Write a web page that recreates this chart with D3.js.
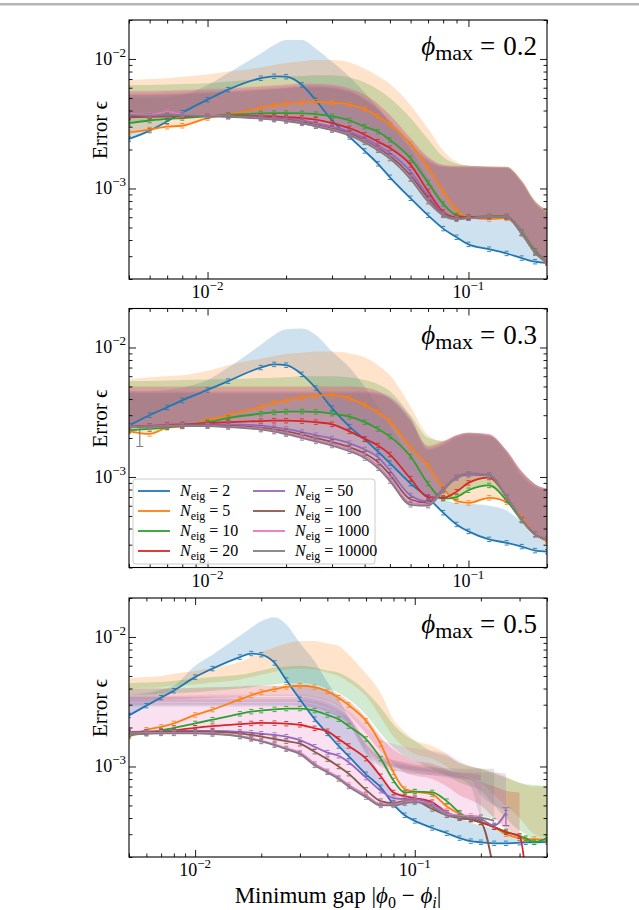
<!DOCTYPE html>
<html lang="en">
<head>
<meta charset="UTF-8">
<title>Error vs minimum gap</title>
<script src="https://cdn.jsdelivr.net/npm/d3@7/dist/d3.min.js"></script>
<style>
    body { margin: 0; background: #fff; }
    text { font-family: "Liberation Serif", "DejaVu Serif", serif; fill: #000; }
</style>
</head>
<body>
<script>
    //series and panels
    var nEig = [2, 5, 10, 20, 50, 100, 1000, 10000];
    var colors = ['#1f77b4', '#ff7f0e', '#2ca02c', '#d62728', '#9467bd', '#8c564b', '#e377c2', '#7f7f7f'];
    var phiMax = ['0.2', '0.3', '0.5'];
    var gapMax = [0.2, 0.2, 0.4];
    var xTicks = [0.01, 0.1];
    var yTicks = [0.001, 0.01];

    //minimum gap values
    var gapA = [0.005, 0.006, 0.007, 0.008, 0.01, 0.012, 0.016, 0.018, 0.02, 0.023, 0.026, 0.03, 0.035, 0.04, 0.045, 0.05, 0.06, 0.07, 0.08, 0.09, 0.1, 0.12, 0.14, 0.16, 0.18, 0.2];
    var gapB = [0.005, 0.006, 0.007, 0.008, 0.01, 0.012, 0.016, 0.018, 0.02, 0.023, 0.026, 0.03, 0.035, 0.04, 0.045, 0.05, 0.06, 0.07, 0.08, 0.09, 0.1, 0.12, 0.14, 0.16, 0.18, 0.2, 0.23, 0.26, 0.3, 0.32, 0.35, 0.4];

    //phi_max = 0.2, error in units of 1e-3
    var err02_2 = [2.41, 2.8, 3.3, 3.85, 4.85, 5.8, 7.1, 7.35, 7.3, 6.3, 4.8, 3.35, 2.5, 1.95, 1.55, 1.22, 0.84, 0.62, 0.49, 0.42, 0.37, 0.34, 0.315, 0.29, 0.272, 0.265];
    var err02_5 = [2.7, 2.85, 3.0, 3.05, 3.5, 3.7, 4.2, 4.4, 4.5, 4.62, 4.67, 4.6, 4.45, 4.1, 3.6, 3.1, 2.2, 1.45, 0.95, 0.68, 0.6, 0.58, 0.59, 0.45, 0.32, 0.265];
    var err02_10 = [3.2, 3.35, 3.45, 3.5, 3.6, 3.7, 3.8, 3.82, 3.82, 3.8, 3.75, 3.6, 3.35, 3.0, 2.74, 2.37, 1.71, 1.11, 0.76, 0.62, 0.6, 0.61, 0.61, 0.46, 0.33, 0.27];
    var err02_20 = [3.55, 3.57, 3.6, 3.6, 3.63, 3.65, 3.62, 3.6, 3.55, 3.5, 3.4, 3.2, 2.92, 2.6, 2.3, 2.05, 1.52, 0.95, 0.66, 0.6, 0.6, 0.605, 0.605, 0.45, 0.32, 0.27];
    var err02_50 = [3.6, 3.6, 3.62, 3.62, 3.63, 3.62, 3.55, 3.5, 3.45, 3.35, 3.2, 3.0, 2.75, 2.45, 2.15, 1.88, 1.35, 0.88, 0.64, 0.59, 0.59, 0.6, 0.6, 0.45, 0.32, 0.27];
    var err02_100 = [3.62, 3.62, 3.63, 3.63, 3.63, 3.6, 3.5, 3.45, 3.38, 3.25, 3.1, 2.9, 2.65, 2.35, 2.05, 1.78, 1.26, 0.84, 0.63, 0.59, 0.59, 0.6, 0.6, 0.45, 0.32, 0.27];
    var err02_1000 = [3.8, 3.7, 3.9, 3.75, 3.65, 3.6, 3.48, 3.42, 3.35, 3.2, 3.05, 2.85, 2.6, 2.3, 2.0, 1.72, 1.2, 0.8, 0.62, 0.58, 0.59, 0.6, 0.6, 0.45, 0.32, 0.27];
    var err02_10000 = [3.7, 3.65, 3.7, 3.68, 3.62, 3.58, 3.46, 3.4, 3.32, 3.18, 3.02, 2.82, 2.57, 2.27, 1.97, 1.7, 1.18, 0.79, 0.62, 0.58, 0.59, 0.6, 0.6, 0.45, 0.32, 0.27];

    var hi02_2 = [5.0, 5.0, 5.1, 5.3, 6.3, 7.8, 11.0, 12.8, 14.0, 14.0, 12.0, 9.5, 7.3, 5.5, 4.2, 3.2, 2.0, 1.2, 0.8, 0.63, 0.6, 0.6, 0.6, 0.5, 0.35, 0.28];
    var hi02_5 = [6.9, 7.0, 7.1, 7.3, 7.6, 8.0, 8.6, 9.0, 9.3, 9.6, 9.8, 9.8, 9.4, 8.4, 7.4, 6.4, 4.4, 2.9, 1.96, 1.6, 1.5, 1.48, 1.47, 1.15, 0.8, 0.68];
    var hi02_10 = [6.3, 6.3, 6.35, 6.4, 6.5, 6.7, 7.0, 7.2, 7.3, 7.4, 7.5, 7.5, 7.2, 6.6, 5.8, 5.0, 3.5, 2.4, 1.75, 1.55, 1.5, 1.48, 1.47, 1.15, 0.8, 0.68];
    var hi02_20 = [5.6, 5.6, 5.65, 5.7, 5.8, 5.9, 6.1, 6.2, 6.3, 6.4, 6.4, 6.3, 5.9, 5.3, 4.5, 3.7, 2.45, 1.75, 1.52, 1.5, 1.5, 1.48, 1.47, 1.15, 0.8, 0.68];
    var hi02_50 = [5.4, 5.4, 5.45, 5.5, 5.6, 5.7, 5.9, 6.0, 6.1, 6.2, 6.2, 6.1, 5.7, 5.0, 4.2, 3.4, 2.3, 1.7, 1.5, 1.48, 1.48, 1.46, 1.45, 1.12, 0.78, 0.66];
    var hi02_100 = [5.3, 5.3, 5.35, 5.4, 5.5, 5.6, 5.8, 5.9, 6.0, 6.1, 6.1, 6.0, 5.6, 4.9, 4.1, 3.3, 2.2, 1.65, 1.48, 1.46, 1.46, 1.45, 1.44, 1.1, 0.77, 0.65];
    var hi02_1000 = [5.7, 5.7, 5.75, 5.8, 5.9, 6.0, 6.2, 6.3, 6.4, 6.5, 6.5, 6.4, 6.0, 5.3, 4.5, 3.7, 2.4, 1.75, 1.52, 1.48, 1.48, 1.46, 1.45, 1.12, 0.78, 0.66];
    var hi02_10000 = [5.2, 5.2, 5.25, 5.3, 5.4, 5.5, 5.7, 5.8, 5.9, 6.0, 6.0, 5.9, 5.5, 4.8, 4.0, 3.2, 2.1, 1.6, 1.46, 1.45, 1.45, 1.44, 1.43, 1.1, 0.76, 0.64];

    //phi_max = 0.3
    var err03_2 = [2.5, 3.0, 3.45, 3.9, 4.7, 5.5, 7.0, 7.4, 7.3, 6.2, 4.85, 3.4, 2.45, 1.95, 1.57, 1.28, 0.89, 0.69, 0.53, 0.43, 0.38, 0.33, 0.31, 0.29, 0.27, 0.265];
    var err03_5 = [2.25, 2.15, 2.4, 2.45, 2.75, 3.0, 3.5, 3.75, 3.9, 4.1, 4.25, 4.28, 4.05, 3.6, 3.16, 2.67, 1.69, 1.22, 0.82, 0.65, 0.63, 0.69, 0.64, 0.49, 0.36, 0.32];
    var err03_10 = [2.3, 2.35, 2.42, 2.5, 2.65, 2.85, 3.08, 3.15, 3.2, 3.2, 3.18, 3.08, 2.92, 2.65, 2.35, 2.05, 1.44, 0.89, 0.68, 0.7, 0.79, 0.86, 0.66, 0.46, 0.36, 0.33];
    var err03_20 = [2.45, 2.48, 2.52, 2.55, 2.6, 2.65, 2.7, 2.72, 2.72, 2.7, 2.65, 2.55, 2.25, 1.97, 1.75, 1.49, 0.97, 0.7, 0.69, 0.77, 0.9, 0.99, 0.7, 0.47, 0.36, 0.33];
    var err03_50 = [2.45, 2.47, 2.5, 2.52, 2.55, 2.55, 2.5, 2.42, 2.35, 2.22, 2.1, 1.98, 1.82, 1.63, 1.42, 1.12, 0.72, 0.65, 0.8, 0.98, 1.04, 1.03, 0.7, 0.47, 0.36, 0.33];
    var err03_100 = [2.44, 2.46, 2.48, 2.5, 2.5, 2.48, 2.4, 2.33, 2.25, 2.12, 2.0, 1.87, 1.7, 1.52, 1.3, 1.04, 0.67, 0.63, 0.8, 1.0, 1.06, 1.04, 0.7, 0.47, 0.36, 0.33];
    var err03_1000 = [2.43, 2.45, 2.47, 2.48, 2.48, 2.45, 2.35, 2.27, 2.18, 2.05, 1.93, 1.8, 1.63, 1.45, 1.22, 0.97, 0.63, 0.61, 0.79, 1.0, 1.06, 1.04, 0.7, 0.47, 0.36, 0.33];
    var err03_10000 = [2.42, 2.44, 2.46, 2.47, 2.47, 2.43, 2.32, 2.24, 2.14, 2.0, 1.88, 1.75, 1.58, 1.4, 1.17, 0.93, 0.61, 0.6, 0.78, 1.0, 1.06, 1.04, 0.7, 0.47, 0.36, 0.33];

    var hi03_2 = [4.6, 4.6, 4.7, 4.9, 5.6, 7.0, 10.5, 12.5, 13.8, 14.0, 12.5, 9.3, 7.0, 5.0, 3.5, 2.5, 1.4, 0.9, 0.68, 0.63, 0.62, 0.6, 0.55, 0.45, 0.35, 0.32];
    var hi03_5 = [5.7, 5.9, 6.0, 6.1, 6.6, 7.3, 8.2, 8.6, 8.9, 9.1, 9.3, 9.3, 9.0, 8.4, 7.3, 6.1, 3.5, 2.1, 1.9, 2.1, 2.2, 2.1, 1.6, 1.1, 0.88, 0.81];
    var hi03_10 = [5.5, 5.5, 5.55, 5.6, 5.65, 5.7, 5.8, 5.85, 5.9, 6.0, 6.0, 6.0, 5.9, 5.6, 5.2, 4.6, 3.0, 2.0, 1.9, 2.1, 2.2, 2.1, 1.6, 1.1, 0.88, 0.81];
    var hi03_20 = [5.0, 5.0, 5.0, 5.0, 5.0, 5.0, 5.0, 5.0, 5.0, 5.0, 5.0, 5.0, 5.0, 4.9, 4.6, 4.0, 2.7, 1.75, 1.9, 2.1, 2.2, 2.15, 1.6, 1.1, 0.88, 0.81];
    var hi03_50 = [4.6, 4.6, 4.6, 4.6, 4.6, 4.6, 4.6, 4.6, 4.6, 4.6, 4.6, 4.6, 4.6, 4.6, 4.5, 4.2, 2.9, 1.7, 1.85, 2.1, 2.2, 2.15, 1.6, 1.1, 0.88, 0.81];
    var hi03_100 = [4.5, 4.5, 4.5, 4.5, 4.5, 4.5, 4.5, 4.5, 4.5, 4.5, 4.5, 4.5, 4.5, 4.5, 4.4, 4.1, 2.8, 1.65, 1.8, 2.05, 2.15, 2.1, 1.55, 1.05, 0.85, 0.8];
    var hi03_1000 = [4.9, 4.9, 4.9, 4.9, 4.9, 4.9, 4.9, 4.9, 4.9, 4.9, 4.9, 4.9, 4.9, 4.8, 4.6, 4.2, 2.8, 1.7, 1.85, 2.1, 2.2, 2.15, 1.6, 1.1, 0.88, 0.81];
    var hi03_10000 = [4.4, 4.4, 4.4, 4.4, 4.4, 4.4, 4.4, 4.4, 4.4, 4.4, 4.4, 4.4, 4.4, 4.4, 4.3, 4.0, 2.7, 1.6, 1.75, 2.0, 2.1, 2.05, 1.5, 1.0, 0.83, 0.78];

    //phi_max = 0.5
    var err05_2 = [2.48, 2.95, 3.4, 3.85, 4.9, 5.7, 7.0, 7.45, 7.3, 6.3, 4.65, 3.3, 2.32, 1.8, 1.44, 1.2, 0.87, 0.69, 0.51, 0.42, 0.38, 0.335, 0.305, 0.28, 0.265, 0.26, 0.255, 0.255, 0.258, 0.26, 0.26, 0.262];
    var err05_5 = [1.7, 1.92, 2.02, 2.15, 2.5, 2.75, 3.3, 3.55, 3.75, 3.95, 4.12, 4.2, 4.1, 3.8, 3.4, 2.98, 2.25, 1.49, 0.9, 0.67, 0.64, 0.61, 0.49, 0.43, 0.395, 0.375, 0.34, 0.3, 0.28, 0.275, 0.275, 0.27];
    var err05_10 = [1.75, 1.8, 1.9, 1.98, 2.15, 2.3, 2.55, 2.65, 2.7, 2.76, 2.8, 2.8, 2.7, 2.5, 2.32, 2.05, 1.63, 1.15, 0.78, 0.63, 0.64, 0.63, 0.54, 0.44, 0.39, 0.37, 0.34, 0.315, 0.29, 0.28, 0.26, 0.28];
    var err05_20 = [1.83, 1.85, 1.87, 1.9, 1.99, 2.05, 2.12, 2.15, 2.17, 2.16, 2.14, 2.1, 1.97, 1.87, 1.63, 1.44, 1.15, 0.84, 0.63, 0.59, 0.57, 0.53, 0.44, 0.4, 0.39, 0.37, 0.34, 0.31, 0.29, 0.15, null, null];
    var err05_50 = [1.85, 1.86, 1.87, 1.88, 1.88, 1.88, 1.85, 1.82, 1.79, 1.75, 1.7, 1.6, 1.42, 1.28, 1.21, 1.08, 0.82, 0.65, 0.57, 0.56, 0.56, 0.51, 0.44, 0.405, 0.395, 0.39, 0.35, 0.44, null, null, null, null];
    var err05_100 = [1.83, 1.84, 1.85, 1.86, 1.86, 1.85, 1.8, 1.75, 1.7, 1.63, 1.57, 1.5, 1.3, 1.14, 1.0, 0.88, 0.66, 0.54, 0.52, 0.54, 0.54, 0.47, 0.42, 0.4, 0.39, 0.37, 0.15, null, null, null, null, null];
    var err05_1000 = [1.8, 1.81, 1.82, 1.82, 1.82, 1.8, 1.72, 1.65, 1.58, 1.48, 1.38, 1.28, 1.05, 0.92, 0.82, 0.72, 0.6, 0.51, 0.51, 0.53, 0.54, 0.5, 0.43, 0.42, 0.415, 0.41, null, null, null, null, null, null];
    var err05_10000 = [1.78, 1.79, 1.8, 1.8, 1.8, 1.78, 1.7, 1.63, 1.56, 1.46, 1.36, 1.25, 1.02, 0.9, 0.8, 0.7, 0.58, 0.5, 0.5, 0.52, 0.53, 0.49, 0.42, 0.41, 0.4, 0.4, 0.38, null, null, null, null, null];

    var hi05_2 = [3.6, 3.7, 3.9, 4.2, 6.0, 7.3, 10.2, 11.8, 13.2, 14.2, 12.5, 9.0, 6.5, 4.5, 3.3, 2.4, 1.4, 0.85, 0.65, 0.58, 0.56, 0.53, 0.46, 0.4, 0.37, 0.35, 0.33, 0.3, 0.28, 0.275, 0.27, 0.27];
    var hi05_5 = [4.8, 4.9, 5.0, 5.2, 5.45, 5.8, 6.4, 7.0, 7.6, 8.3, 8.9, 9.3, 9.3, 8.9, 8.5, 7.3, 5.2, 3.7, 2.3, 1.85, 1.6, 1.44, 1.25, 1.05, 1.0, 0.96, 0.9, 0.83, 0.75, 0.72, 0.7, 0.7];
    var hi05_10 = [4.4, 4.45, 4.5, 4.6, 4.75, 4.9, 5.1, 5.3, 5.5, 5.8, 5.9, 6.0, 5.8, 5.5, 5.3, 4.85, 3.8, 2.85, 2.1, 1.75, 1.57, 1.3, 1.2, 1.07, 1.0, 0.96, 0.88, 0.82, 0.75, 0.73, 0.72, 0.71];
    var hi05_20 = [4.0, 4.0, 4.0, 4.0, 4.05, 4.1, 4.15, 4.2, 4.2, 4.2, 4.2, 4.2, 4.1, 3.9, 3.6, 3.2, 2.4, 1.7, 1.35, 1.2, 1.1, 1.05, 0.95, 0.85, 0.8, 0.76, 0.7, 0.65, 0.63, null, null, null];
    var hi05_50 = [3.3, 3.3, 3.3, 3.3, 3.3, 3.3, 3.3, 3.3, 3.3, 3.3, 3.3, 3.3, 3.2, 3.0, 2.7, 2.4, 1.5, 1.2, 1.1, 1.05, 1.0, 0.95, 0.92, 0.9, 0.9, 0.9, 0.9, 0.88, null, null, null, null];
    var hi05_100 = [3.45, 3.45, 3.45, 3.45, 3.45, 3.45, 3.45, 3.45, 3.45, 3.45, 3.45, 3.45, 3.35, 3.15, 2.85, 2.45, 1.6, 1.25, 1.12, 1.08, 1.04, 1.0, 0.94, 0.9, 0.88, 0.86, null, null, null, null, null, null];
    var hi05_1000 = [3.4, 3.4, 3.45, 3.5, 3.55, 3.6, 3.6, 3.6, 3.6, 3.6, 3.6, 3.6, 3.5, 3.3, 3.0, 2.7, 2.0, 1.6, 1.5, 1.42, 1.38, 1.32, 1.25, 1.1, 1.0, 0.96, null, null, null, null, null, null];
    var hi05_10000 = [3.1, 3.1, 3.1, 3.1, 3.1, 3.1, 3.1, 3.1, 3.1, 3.1, 3.1, 3.1, 3.0, 2.8, 2.6, 2.3, 1.45, 1.15, 1.05, 1.02, 1.0, 0.98, 0.97, 0.96, 0.96, 0.96, 0.96, null, null, null, null, null];

    //phi_max = 0.5 band lower edges (where they sit above the line)
    var lo05_5 = [4.0, 4.05, 4.1, 4.2, 4.3, 4.45, 4.7, 4.9, 5.1, 5.4, 5.6, 5.7, 5.6, 5.3, 5.0, 4.5, 3.5, 2.4, 1.7, 1.4, 1.25, 1.15, 1.0, 0.85, 0.8, 0.75, 0.6, 0.5, 0.4, 0.35, 0.3, 0.28];
    var lo05_10 = [3.6, 3.6, 3.65, 3.7, 3.75, 3.85, 4.0, 4.1, 4.2, 4.3, 4.4, 4.4, 4.3, 4.0, 3.7, 3.3, 2.5, 1.8, 1.4, 1.2, 1.1, 0.95, 0.85, 0.75, 0.7, 0.65, 0.5, 0.4, 0.32, 0.3, 0.27, 0.28];
    var lo05_20 = [3.3, 3.3, 3.3, 3.3, 3.35, 3.4, 3.45, 3.5, 3.5, 3.5, 3.5, 3.5, 3.4, 3.2, 2.9, 2.5, 1.8, 1.3, 1.05, 0.9, 0.85, 0.8, 0.7, 0.6, 0.55, 0.5, 0.4, 0.33, 0.3, null, null, null];
    var lo05_50 = [3.0, 3.0, 3.0, 3.0, 3.0, 3.0, 3.0, 3.0, 3.0, 3.0, 3.0, 2.95, 2.85, 2.65, 2.4, 2.1, 1.3, 1.05, 0.98, 0.94, 0.9, 0.85, 0.82, 0.8, 0.78, 0.6, 0.5, 0.46, null, null, null, null];
    var lo05_100 = [3.15, 3.15, 3.15, 3.15, 3.15, 3.15, 3.15, 3.15, 3.15, 3.15, 3.15, 3.15, 3.05, 2.85, 2.6, 2.2, 1.4, 1.1, 1.0, 0.96, 0.93, 0.9, 0.85, 0.82, 0.8, 0.78, null, null, null, null, null, null];
    var lo05_10000 = [2.9, 2.9, 2.9, 2.9, 2.9, 2.9, 2.9, 2.9, 2.9, 2.9, 2.9, 2.9, 2.8, 2.6, 2.4, 2.1, 1.25, 1.0, 0.93, 0.9, 0.88, 0.86, 0.84, 0.8, 0.7, 0.42, 0.4, null, null, null, null, null];

    //single wide error bars
    var wideBarPanel = [1, 2];
    var wideBarSeries = [7, 4];
    var wideBarGap = [0.0055, 0.26];
    var wideBarLo = [1.72, 0.35];
    var wideBarHi = [2.45, 0.48];

    var panels = [
        { gap: gapA, mid: [err02_2, err02_5, err02_10, err02_20, err02_50, err02_100, err02_1000, err02_10000],
          hi: [hi02_2, hi02_5, hi02_10, hi02_20, hi02_50, hi02_100, hi02_1000, hi02_10000], lo: [] },
        { gap: gapA, mid: [err03_2, err03_5, err03_10, err03_20, err03_50, err03_100, err03_1000, err03_10000],
          hi: [hi03_2, hi03_5, hi03_10, hi03_20, hi03_50, hi03_100, hi03_1000, hi03_10000], lo: [] },
        { gap: gapB, mid: [err05_2, err05_5, err05_10, err05_20, err05_50, err05_100, err05_1000, err05_10000],
          hi: [hi05_2, hi05_5, hi05_10, hi05_20, hi05_50, hi05_100, hi05_1000, hi05_10000],
          lo: [null, lo05_5, lo05_10, lo05_20, lo05_50, lo05_100, null, lo05_10000] }
    ];

    //layout
    var w = 639;
    var h = 910;
    var left = 129;
    var right = 547;
    var panelH = 259;
    var tops = [20, 308.5, 598];

    var svg = d3.select('body')
                .append('svg')
                .attr('width', w)
                .attr('height', h);

    //grey rule at the very top
    svg.append('rect')
        .attr('x', 0).attr('y', 3)
        .attr('width', w).attr('height', 2.5)
        .attr('fill', '#b5b5b5');

    function powLabel(sel, v) {
        var e = Math.round(Math.log10(v));
        sel.append('tspan').text('10');
        sel.append('tspan').attr('font-size', 13).attr('dy', -8).text('\u2212' + Math.abs(e));
    }

    panels.forEach(function(p, k) {
        var top = tops[k];
        var bottom = top + panelH;

        var xScale = d3.scaleLog()
                        .domain([0.005, gapMax[k]])
                        .range([left, right]);
        var yScale = d3.scaleLog()
                        .domain([2e-4, 2e-2])
                        .range([bottom, top]);

        svg.append('clipPath')
            .attr('id', 'clip' + k)
            .append('rect')
            .attr('x', left).attr('y', top)
            .attr('width', right - left).attr('height', panelH);

        var plot = svg.append('g').attr('clip-path', 'url(#clip' + k + ')');

        //shaded bands
        nEig.forEach(function(n, i) {
            var lo = p.lo[i] || p.mid[i];
            var pts = p.gap.map(function(g, j) {
                return [g, lo[j], p.hi[i][j]];
            });
            var area = d3.area()
                        .defined(function(d) { return d[1] != null && d[2] != null; })
                        .x(function(d) { return xScale(d[0]); })
                        .y0(function(d) { return yScale(d[1] * 1e-3); })
                        .y1(function(d) { return yScale(d[2] * 1e-3); })
                        .curve(d3.curveMonotoneX);
            plot.append('path')
                .datum(pts)
                .attr('d', area)
                .attr('fill', colors[i])
                .attr('fill-opacity', 0.22);
        });

        //lines with small error caps
        nEig.forEach(function(n, i) {
            var pts = p.gap.map(function(g, j) {
                return [g, p.mid[i][j]];
            }).filter(function(d) { return d[1] != null; });

            var line = d3.line()
                        .x(function(d) { return xScale(d[0]); })
                        .y(function(d) { return yScale(d[1] * 1e-3); })
                        .curve(d3.curveMonotoneX);

            plot.append('path')
                .datum(pts)
                .attr('d', line)
                .attr('fill', 'none')
                .attr('stroke', colors[i])
                .attr('stroke-width', 1.8);

            plot.selectAll(null)
                .data(pts)
                .enter()
                .append('path')
                .attr('d', function(d) {
                    var cx = xScale(d[0]), cy = yScale(d[1] * 1e-3);
                    return 'M' + (cx - 2) + ',' + (cy - 2.2) + 'h4M' + (cx - 2) + ',' + (cy + 2.2) + 'h4';
                })
                .attr('stroke', colors[i])
                .attr('stroke-width', 0.9)
                .attr('fill', 'none');
        });

        //wide error bars
        wideBarPanel.forEach(function(pk, b) {
            if (pk !== k) return;
            var cx = xScale(wideBarGap[b]);
            var y0 = yScale(wideBarLo[b] * 1e-3), y1 = yScale(wideBarHi[b] * 1e-3);
            plot.append('path')
                .attr('d', 'M' + cx + ',' + y0 + 'V' + y1 + 'M' + (cx - 3.5) + ',' + y0 + 'h7M' + (cx - 3.5) + ',' + y1 + 'h7')
                .attr('stroke', colors[wideBarSeries[b]])
                .attr('stroke-width', 1.2)
                .attr('fill', 'none');
        });

        //ticks, all inward
        var xMinor = xScale.ticks().filter(function(v) { return xTicks.indexOf(v) < 0; });
        var yMinor = yScale.ticks().filter(function(v) { return Math.abs(Math.log10(v) % 1) > 0.01; });

        function tickGroup(axis, tx, ty) {
            svg.append('g')
                .attr('transform', 'translate(' + tx + ',' + ty + ')')
                .call(axis)
                .call(function(g) { g.select('.domain').remove(); g.selectAll('text').remove(); })
                .selectAll('line').attr('stroke', '#000').attr('stroke-width', 0.9);
        }
        tickGroup(d3.axisBottom(xScale).tickValues(xMinor).tickSize(-3.5), 0, bottom);
        tickGroup(d3.axisBottom(xScale).tickValues(xTicks).tickSize(-7), 0, bottom);
        tickGroup(d3.axisTop(xScale).tickValues(xMinor).tickSize(-3.5), 0, top);
        tickGroup(d3.axisTop(xScale).tickValues(xTicks).tickSize(-7), 0, top);
        tickGroup(d3.axisLeft(yScale).tickValues(yMinor).tickSize(-3.5), left, 0);
        tickGroup(d3.axisLeft(yScale).tickValues(yTicks).tickSize(-7), left, 0);
        tickGroup(d3.axisRight(yScale).tickValues(yMinor).tickSize(-3.5), right, 0);
        tickGroup(d3.axisRight(yScale).tickValues(yTicks).tickSize(-7), right, 0);

        //frame
        svg.append('rect')
            .attr('x', left).attr('y', top)
            .attr('width', right - left).attr('height', panelH)
            .attr('fill', 'none')
            .attr('stroke', '#000')
            .attr('stroke-width', 1.1);

        //tick labels
        xTicks.forEach(function(v) {
            svg.append('text')
                .attr('x', xScale(v))
                .attr('y', bottom + 19)
                .attr('text-anchor', 'middle')
                .attr('font-size', 18)
                .call(powLabel, v);
        });
        yTicks.forEach(function(v) {
            svg.append('text')
                .attr('x', left - 3)
                .attr('y', yScale(v) + 6)
                .attr('text-anchor', 'end')
                .attr('font-size', 18)
                .call(powLabel, v);
        });

        //y label
        svg.append('text')
            .attr('transform', 'translate(107,' + (top + 110) + ') rotate(-90)')
            .attr('text-anchor', 'middle')
            .attr('font-size', 21)
            .text('Error \u03f5');

        //phi_max annotation
        var ann = svg.append('text')
                    .attr('x', right - 10)
                    .attr('y', top + 35)
                    .attr('text-anchor', 'end')
                    .attr('font-size', 27);
        ann.append('tspan').attr('font-style', 'italic').text('\u03d5');
        ann.append('tspan').attr('font-size', 22).attr('dy', 5).text('max');
        ann.append('tspan').attr('dy', -5).attr('dx', 7).text('=');
        ann.append('tspan').attr('dx', 8).text(phiMax[k]);
    });

    //x label
    var xl = svg.append('text')
                .attr('x', (left + right) / 2)
                .attr('y', 903)
                .attr('text-anchor', 'middle')
                .attr('font-size', 23);
    xl.append('tspan').text('Minimum gap |');
    xl.append('tspan').attr('font-style', 'italic').text('\u03d5');
    xl.append('tspan').attr('font-size', 16).attr('dy', 5).text('0');
    xl.append('tspan').attr('dy', -5).text(' \u2212 ');
    xl.append('tspan').attr('font-style', 'italic').text('\u03d5');
    xl.append('tspan').attr('font-size', 16).attr('dy', 5).attr('font-style', 'italic').text('i');
    xl.append('tspan').attr('dy', -5).text('|');

    //legend in the middle panel
    var lgX = 133, lgY = 479;
    var legend = svg.append('g');
    legend.append('rect')
        .attr('x', lgX).attr('y', lgY)
        .attr('width', 242).attr('height', 85)
        .attr('rx', 3)
        .attr('fill', '#fff').attr('fill-opacity', 0.8)
        .attr('stroke', '#cccccc').attr('stroke-width', 1);

    nEig.forEach(function(n, i) {
        var col = Math.floor(i / 4), row = i % 4;
        var lx = lgX + 5 + col * 115;
        var ly = lgY + 12 + row * 20;
        legend.append('line')
            .attr('x1', lx).attr('x2', lx + 32)
            .attr('y1', ly).attr('y2', ly)
            .attr('stroke', colors[i])
            .attr('stroke-width', 1.8);
        var t = legend.append('text')
                    .attr('x', lx + 42)
                    .attr('y', ly + 5)
                    .attr('font-size', 16);
        t.append('tspan').attr('font-style', 'italic').text('N');
        t.append('tspan').attr('font-size', 12).attr('dy', 4).text('eig');
        t.append('tspan').attr('dy', -4).text(' = ' + n);
    });
</script>
</body>
</html>
